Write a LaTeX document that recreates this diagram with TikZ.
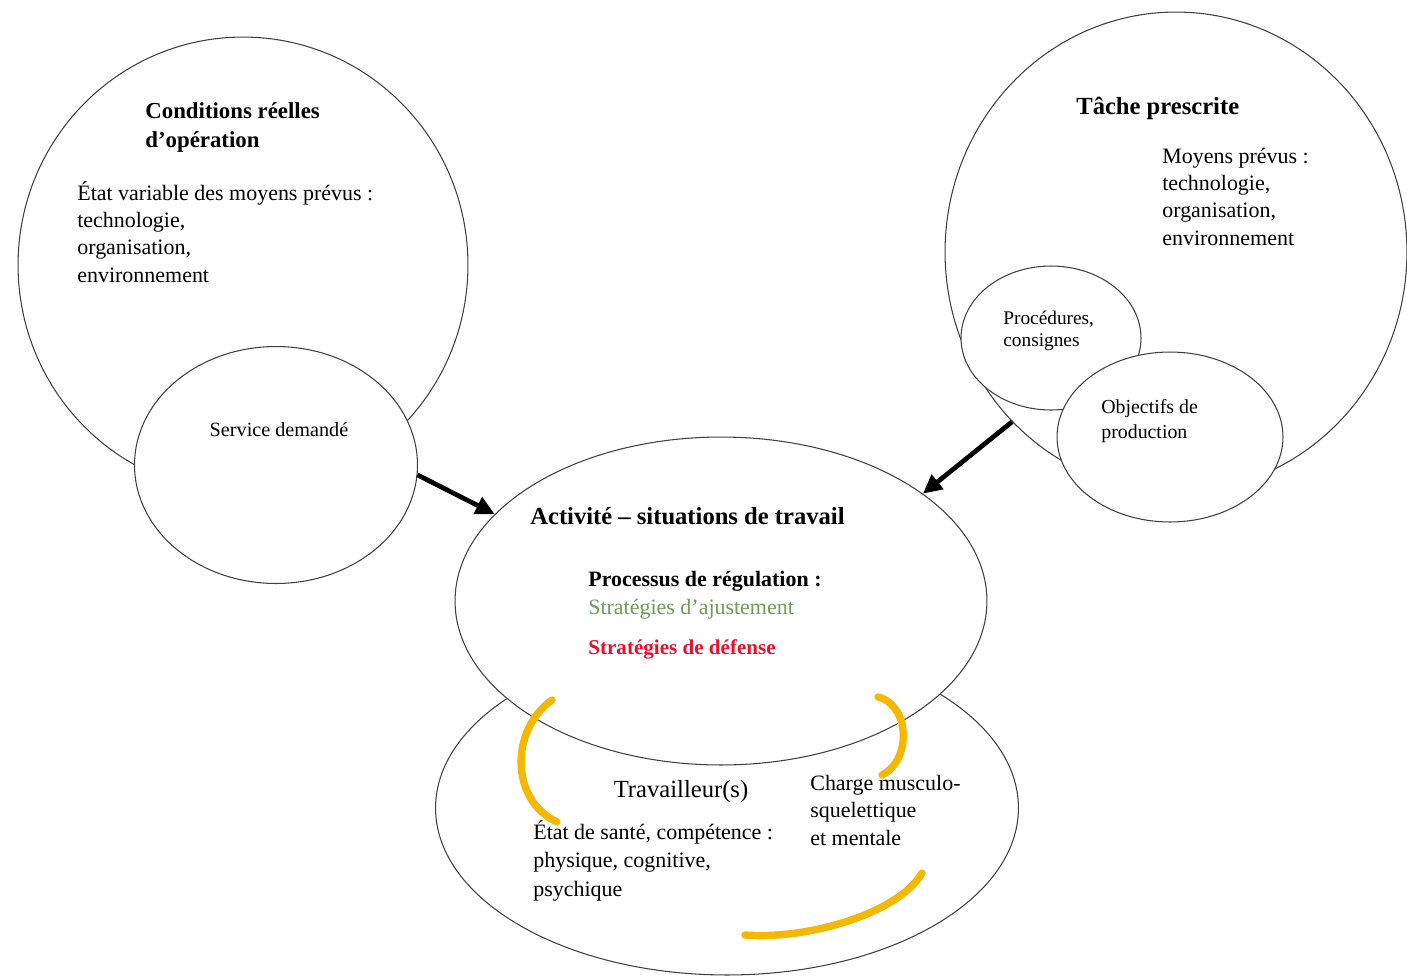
\documentclass[tikz,border=0pt]{standalone}
\usepackage{fontspec}
\setmainfont{Liberation Serif}
\usetikzlibrary{shapes.geometric,arrows.meta}
\definecolor{ajust}{HTML}{729A58}
\definecolor{defense}{HTML}{E8102E}
\definecolor{boucle}{HTML}{F4B800}

\begin{document}
\begin{tikzpicture}[
    x=0.02cm, y=-0.02cm,
    every node/.style={font=\fontsize{12.5}{15.4}\selectfont},
    bulle/.style={ellipse, draw=black!75, fill=white, line width=0.6pt, inner sep=0pt},
    texte/.style={anchor=base west, align=left, inner sep=0pt},
    titre/.style={texte, font=\fontsize{13}{16}\selectfont\bfseries},
    arrow/.style={-{Triangle[length=3.8mm, width=3.6mm]}, line width=2.7pt},
    boucle/.style={draw=boucle, line width=4.2pt, line cap=round}
    ]
    \useasboundingbox (0,0) rectangle (1407,978);

    % conditions reelles, a gauche (base = derniere ligne)
    \node[bulle, minimum width=9cm, minimum height=9.12cm] (cond) at (243,265) {};
    \node[bulle, minimum width=5.66cm, minimum height=4.74cm] (service) at (276,465) {};
    \node[titre] (condtitre) at (145,147) {Conditions réelles\\d’opération};
    \node[texte] (condtexte) at (77,282) {État variable des moyens prévus :\\technologie,\\organisation,\\environnement};
    \node[inner sep=0pt, anchor=base, font=\fontsize{11.5}{14}\selectfont] (servicetexte) at (279,436) {Service demandé};

    % tache prescrite, a droite
    \node[bulle, minimum width=9.24cm, minimum height=9.6cm] (tache) at (1176,252) {};
    \node[bulle, minimum width=3.6cm, minimum height=2.88cm] (proc) at (1051,338) {};
    \node[bulle, minimum width=4.52cm, minimum height=3.4cm] (obj) at (1170,437) {};
    \node[titre, font=\fontsize{14}{17}\selectfont\bfseries] (tachetitre) at (1076,114) {Tâche prescrite};
    \node[texte] (moyens) at (1162,245) {Moyens prévus :\\technologie,\\organisation,\\environnement};
    \node[texte, font=\fontsize{11}{12}\selectfont] (proctexte) at (1003,346) {Procédures,\\consignes};
    \node[texte, font=\fontsize{11.3}{14.2}\selectfont] (objtexte) at (1101,438) {Objectifs de\\production};

    % travailleur puis activite par-dessus
    \node[bulle, minimum width=11.66cm, minimum height=6.68cm] (trav) at (727,808) {};
    \node[bulle, minimum width=10.64cm, minimum height=6.56cm] (activite) at (721,601) {};
    \node[titre, font=\fontsize{14}{17}\selectfont\bfseries] (acttitre) at (530,524) {Activité – situations de travail};
    \node[titre, font=\fontsize{12.5}{16}\selectfont\bfseries] (regul) at (588,586) {Processus de régulation :};
    \node[texte, text=ajust] (ajustement) at (588,614) {Stratégies d’ajustement};
    \node[titre, font=\fontsize{12}{15}\selectfont\bfseries, text=defense] (defense) at (588,654) {Stratégies de défense};
    \node[inner sep=0pt, anchor=base, font=\fontsize{14}{17}\selectfont] (travtitre) at (681,797) {Travailleur(s)};
    \node[texte] (charge) at (810,845) {Charge musculo-\\squelettique\\et mentale};
    \node[texte, font=\fontsize{12.5}{16}\selectfont] (sante) at (533,896) {État de santé, compétence :\\physique, cognitive,\\psychique};

    \draw[arrow] (service.-4) -- (activite.159);
    \draw[arrow] (tache.226) -- (activite.28);

    % boucles de regulation
    \draw[boucle] (552,700) .. controls (510,730) and (510,800) .. (557,822);
    \draw[boucle] (878,697) .. controls (910,705) and (912,760) .. (882,775);
    \draw[boucle] (922,873) .. controls (900,912) and (810,940) .. (745,935);
\end{tikzpicture}
\end{document}
